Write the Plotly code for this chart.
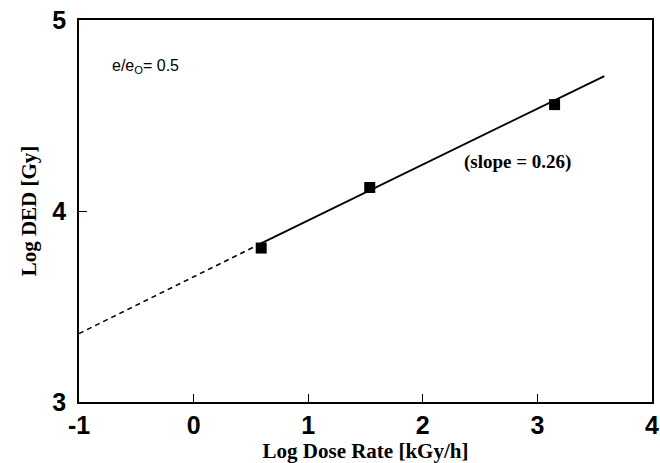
import plotly.graph_objects as go

# Data
dose_rate_log = [0.59, 1.537, 3.15]
ded_log = [3.806, 4.123, 4.557]

# Fitted line (dashed extrapolation + solid fit)
extrap_x = [-1.0, 0.58]
extrap_y = [3.358, 3.828]
fit_x = [0.58, 3.584]
fit_y = [3.828, 4.706]

x_ticks = [-1, 0, 1, 2, 3, 4]
y_ticks = [3, 4, 5]

fig = go.Figure()
fig.add_trace(go.Scatter(x=extrap_x, y=extrap_y, mode="lines",
                         line=dict(color="black", width=1.6, dash="5px,4px"),
                         showlegend=False, hoverinfo="skip"))
fig.add_trace(go.Scatter(x=fit_x, y=fit_y, mode="lines",
                         line=dict(color="black", width=1.8),
                         showlegend=False, hoverinfo="skip"))
fig.add_trace(go.Scatter(x=dose_rate_log, y=ded_log, mode="markers",
                         marker=dict(symbol="square", size=11, color="black"),
                         showlegend=False))

fig.add_annotation(x=-0.73, y=4.754, xref="x", yref="y", xanchor="left", yanchor="middle",
                   text="e/e<sub>O</sub>= 0.5", showarrow=False,
                   font=dict(family="Liberation Sans", size=16, color="black"))
fig.add_annotation(x=2.34, y=4.257, xref="x", yref="y", xanchor="left", yanchor="middle",
                   text="(slope = 0.26)", showarrow=False,
                   font=dict(family="Liberation Serif", size=19, color="black", weight="bold"))

axis_common = dict(showline=True, linecolor="black", linewidth=1.5, mirror=True,
                   ticks="inside", ticklen=8, tickcolor="black", tickwidth=1.3,
                   showgrid=False, zeroline=False, ticklabeloverflow="allow",
                   tickfont=dict(family="Liberation Sans", size=25, color="black", weight="bold"))

fig.update_xaxes(range=[-1, 4], tickvals=x_ticks, ticktext=[str(v) for v in x_ticks],
                 title=dict(text="Log Dose Rate [kGy/h]", standoff=4,
                            font=dict(family="Liberation Serif", size=21, color="black", weight="bold")),
                 **axis_common)
fig.update_yaxes(range=[3, 5], tickvals=y_ticks, ticktext=[str(v) for v in y_ticks],
                 ticklabelstandoff=6,
                 title=dict(text="Log DED [Gy]", standoff=10,
                            font=dict(family="Liberation Serif", size=21, color="black", weight="bold")),
                 **axis_common)

fig.update_layout(width=660, height=463, margin=dict(l=79, r=1, t=20, b=61),
                  plot_bgcolor="white", paper_bgcolor="white")

fig.write_html("out.html")
